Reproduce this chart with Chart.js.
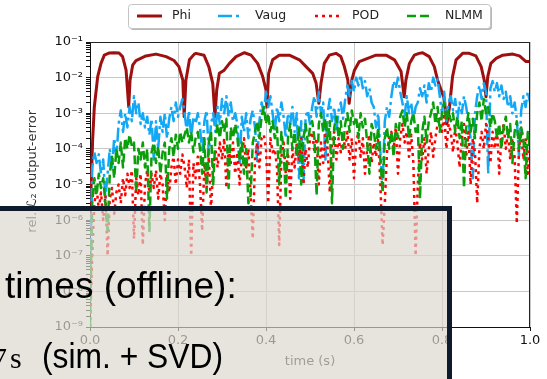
<!DOCTYPE html>
<html><head><meta charset="utf-8">
<script src="https://cdn.jsdelivr.net/npm/chart.js@4.4.1/dist/chart.umd.min.js"></script>
<style>html,body{margin:0;padding:0;background:#fff;}canvas{display:block}</style>
</head><body>
<canvas id="c" width="547" height="379"></canvas>
<script>
// ---- data ----
const times = [0,.005,.01,.015,.02,.025,.03,.035,.04,.045,
.05,.055,.06,.065,.07,.075,.08,.085,.09,.095,
.1,.105,.11,.115,.12,.125,.13,.135,.14,.145,
.15,.155,.16,.165,.17,.175,.18,.185,.19,.195,
.2,.205,.21,.215,.22,.225,.23,.235,.24,.245,
.25,.255,.26,.265,.27,.275,.28,.285,.29,.295,
.3,.305,.31,.315,.32,.325,.33,.335,.34,.345,
.35,.355,.36,.365,.37,.375,.38,.385,.39,.395,
.4,.405,.41,.415,.42,.425,.43,.435,.44,.445,
.45,.455,.46,.465,.47,.475,.48,.485,.49,.495,
.5,.505,.51,.515,.52,.525,.53,.535,.54,.545,
.55,.555,.56,.565,.57,.575,.58,.585,.59,.595,
.6,.605,.61,.615,.62,.625,.63,.635,.64,.645,
.65,.655,.66,.665,.67,.675,.68,.685,.69,.695,
.7,.705,.71,.715,.72,.725,.73,.735,.74,.745,
.75,.755,.76,.765,.77,.775,.78,.785,.79,.795,
.8,.805,.81,.815,.82,.825,.83,.835,.84,.845,
.85,.855,.86,.865,.87,.875,.88,.885,.89,.895,
.9,.905,.91,.915,.92,.925,.93,.935,.94,.945,
.95,.955,.96,.965,.97,.975,.98,.985,.99,.995,
1];

const phiT = [0,.006,.0098,.0175,.025,.0325,.043,.0545,.066,.074,.082,.088,.091,.097,.1045,.127,.15,.173,.191,.202,.211,.214,.218,.226,.237,.241,.259,.27,.279,.284,.288,.294,.305,.317,.332,.351,.366,.381,.3925,.4,.402,.406,.415,.43,.453,.476,.491,.506,.514,.52,.525,.5325,.544,.559,.57,.578,.586,.589,.595,.601,.612,.631,.65,.673,.692,.707,.714,.718,.726,.737,.748,.756,.771,.7825,.79,.798,.805,.811,.817,.824,.832,.847,.862,.877,.889,.896,.9,.904,.911,.923,.938,.961,.976,.991,1];
const phiV = [1e-6,1.8e-4,1.5e-3,.0107,.0251,.0427,.049,.05,.049,.0389,.0162,.0015,.0085,.0224,.0302,.0407,.0457,.0389,.0302,.0204,.0085,.0008,.0085,.0316,.0457,.048,.0427,.0204,.0069,.0008,.0045,.0132,.0162,.0251,.0389,.05,.0427,.0251,.0107,.0045,.0015,.0132,.0316,.0427,.0427,.0316,.0204,.0132,.0069,.0019,.0069,.0251,.0427,.048,.0389,.0204,.0085,.0019,.0085,.0162,.0282,.0347,.0427,.0427,.0316,.0148,.0029,.0085,.0251,.0427,.048,.05,.0389,.0204,.0085,.0045,.0026,.0005,.0015,.0107,.0316,.048,.048,.0407,.0204,.0085,.0029,.0107,.0251,.0347,.0427,.0457,.0407,.0282,.0282];

const vaug = [5e-9,3e-5,8e-5,4e-5,7e-5,2e-5,5e-5,4e-6,2e-5,1e-4,
3e-5,2e-4,6e-5,5e-4,1.2e-3,3e-4,1e-3,4e-4,1.5e-3,6e-4,
3e-3,1e-3,2e-3,5e-4,1e-3,4e-4,8e-4,2.5e-4,7e-4,5e-5,
6e-4,1e-4,8e-4,3e-4,1e-3,2e-4,7e-4,1.5e-3,6e-4,2e-3,
8e-4,1.5e-3,2.5e-3,1e-3,3e-4,1.2e-3,2e-4,8e-4,5e-4,1e-3,
4e-4,8e-5,6e-4,1.2e-3,7e-5,5e-4,1e-3,3e-4,1.5e-3,5e-4,
2.5e-3,1e-3,3e-3,8e-4,2e-3,6e-4,1e-3,5e-4,4e-5,8e-4,
3e-4,1e-3,2e-4,7e-4,1.2e-3,4e-4,4e-5,6e-4,2e-3,1e-3,
4e-3,1.5e-3,3e-3,1e-3,3e-4,1.5e-3,6e-4,2e-3,8e-4,2e-4,
1e-3,5e-4,1.5e-3,3e-4,1e-3,1.5e-5,6e-4,1e-5,8e-4,1.2e-3,
5e-4,1.5e-3,3e-3,8e-4,4e-3,1e-3,2e-3,5e-5,1e-3,2.5e-3,
6e-4,1.5e-3,3e-4,1.2e-3,2e-3,7e-4,2.5e-3,6e-3,3e-3,8e-3,
4e-3,1e-2,6e-3,1.2e-2,5e-3,8e-3,3e-3,5e-3,2e-3,1.5e-3,
4e-4,1e-3,8e-5,1e-5,6e-4,1.5e-3,8e-4,3e-3,8e-3,5e-3,
1e-2,4e-3,2e-3,8e-4,3e-3,1e-3,2e-3,6e-4,1.5e-3,2e-3,
5e-3,3e-3,6e-3,2e-3,7e-3,4e-3,1e-2,6e-3,9e-3,3e-3,
1e-3,4e-3,6e-4,2e-3,3e-3,1.2e-3,2.5e-3,7e-4,2e-3,1e-3,
3e-3,1.5e-3,6e-4,2e-4,1.5e-5,1e-3,3e-3,6e-3,2.5e-3,7e-3,
4e-3,2e-5,5e-3,8e-3,4e-3,7e-3,3e-3,6e-3,2.5e-3,4e-3,
1.5e-3,3e-3,1e-3,2e-3,7e-4,6e-5,1.2e-3,3e-3,1.5e-3,4e-3,
2e-3];

const pod = [1e-9,1e-7,3e-6,8e-6,2e-6,6e-6,1e-6,5e-6,1e-7,4e-6,
8e-6,1.5e-6,6e-6,1e-5,3e-6,1.5e-5,5e-6,2e-5,8e-6,2.5e-5,
3e-7,1.5e-5,5e-6,2e-5,2e-7,1e-5,2.5e-5,6e-6,2e-5,8e-6,
2.5e-5,4e-6,2e-5,1e-5,1e-6,2e-5,6e-6,3e-5,6e-5,1e-5,
5e-5,2e-5,7e-5,3e-5,8e-6,5e-5,1e-7,4e-5,1.5e-5,6e-5,
1e-5,5e-7,4e-5,8e-6,6e-5,2e-6,3e-5,1e-4,3e-5,1.5e-4,
5e-5,2e-4,8e-6,1e-4,4e-5,1.5e-4,2e-5,8e-5,1e-5,6e-5,
2e-4,3e-5,1e-4,5e-6,3e-7,5e-5,1.5e-4,3e-5,2e-4,2.5e-4,
1e-4,3e-6,2e-4,8e-5,1e-4,3e-5,2e-7,6e-5,1.5e-4,2e-5,
8e-5,4e-6,1e-4,3e-5,1.5e-4,5e-5,2e-4,1e-5,1e-4,3e-5,
2e-4,3e-4,8e-5,2e-4,1e-5,1.5e-4,4e-5,2.5e-4,1e-4,6e-6,
1.5e-4,3e-4,5e-5,2e-4,8e-5,2.5e-4,1e-4,3e-4,5e-5,2e-4,
1.5e-5,1.5e-4,3e-4,6e-5,2e-4,2e-5,1e-4,2.5e-4,4e-5,1.5e-4,
6e-5,2e-4,1e-5,2e-7,3e-6,8e-5,2e-4,3e-4,1e-4,4e-4,
2e-5,2e-4,5e-4,1.5e-4,3e-4,6e-5,2.5e-4,4e-5,1e-7,1e-5,
1.5e-4,5e-5,2e-4,2e-5,1e-4,3e-4,6e-5,2e-4,5e-4,8e-4,
3e-4,1e-3,1e-4,5e-4,3e-4,8e-5,4e-4,1.5e-4,3e-5,2e-4,
5e-4,6e-5,3e-4,1e-5,2e-4,8e-5,3e-6,1e-4,3e-4,1e-4,
5e-4,2e-4,4e-5,3e-4,1e-4,4e-4,2e-5,2e-4,5e-4,1e-4,
3e-4,5e-5,2e-4,6e-5,8e-7,1e-4,3e-4,5e-5,2e-4,2e-5,
1.5e-4];

const nlmm = [1e-9,3e-6,1.5e-5,5e-6,2e-5,8e-6,1.5e-5,3e-6,5e-7,2e-5,
6e-5,1.5e-5,1e-4,4e-5,1.5e-4,3e-5,2e-4,1e-4,2.5e-4,1.2e-4,
1.5e-4,6e-6,1e-4,5e-5,1.5e-4,3e-5,1e-4,5e-7,8e-5,1.5e-4,
4e-5,1.2e-4,2e-5,8e-5,1.5e-4,4e-6,1e-4,2e-4,6e-5,2.5e-4,
1e-4,3e-4,1.5e-4,2.5e-4,4e-4,1.5e-4,3e-4,8e-5,2e-4,3e-4,
1e-4,2e-5,2e-4,6e-6,1.5e-4,3e-4,1e-5,2e-4,5e-4,2e-4,
6e-4,3e-4,7e-4,8e-6,4e-4,2e-4,5e-4,2e-4,5e-5,1.5e-4,
2e-5,1e-4,3e-6,5e-6,1.5e-4,3e-4,6e-4,2e-4,8e-4,1.5e-3,
5e-4,1e-3,3e-4,6e-4,2e-4,4e-4,1e-5,3e-4,1e-4,4e-6,
2e-4,5e-4,1e-4,3e-4,6e-5,4e-4,1e-5,2e-4,5e-4,1.5e-4,
4e-4,6e-4,2e-4,5e-6,5e-4,1e-3,3e-4,7e-4,1.5e-4,6e-4,
3e-6,4e-4,8e-4,2e-4,6e-4,1e-4,5e-4,1e-3,3e-4,1.2e-3,
5e-4,8e-4,2e-4,1e-3,4e-4,7e-4,1.5e-4,2e-5,5e-4,3e-4,
1e-4,4e-4,5e-5,6e-6,2e-4,4e-4,1e-4,3e-4,6e-5,5e-4,
2e-4,8e-4,1.2e-3,4e-4,1e-3,2e-4,6e-4,1e-3,3e-4,5e-4,
4e-6,3e-4,8e-4,1.5e-4,6e-4,1e-3,2e-3,5e-4,1.5e-3,3e-4,
1e-3,2e-3,6e-4,1.2e-3,6e-4,1e-3,3e-4,8e-4,2e-4,6e-4,
8e-6,4e-4,1e-3,3e-4,7e-4,2e-4,1e-3,2e-3,6e-4,2.5e-3,
1e-3,1.5e-3,4e-4,1e-3,6e-4,2e-4,5e-4,1e-4,4e-4,8e-4,
2e-4,5e-4,4e-5,3e-4,6e-4,1e-4,4e-4,2e-4,1.5e-5,3e-4,
1e-4];

const seriesNames = ['Phi','Vaug','POD','NLMM'];
const xTickValues = [0,0.2,0.4,0.6,0.8,1.0];
const yDecades = [-9,-8,-7,-6,-5,-4,-3,-2,-1];
const yTitle = 'rel. ℒ₂ output-error';
const xTitle = 'time (s)';

// ---- styles ----
const COL = {Phi:'#9e0f0f', Vaug:'#12a8f5', POD:'#ff0000', NLMM:'#0a9e0a'};
const DASH = {Phi:[], Vaug:[14,4,3,4], POD:[3,4], NLMM:[9,4]};
const LWS = {Phi:3, Vaug:2.5, POD:2.5, NLMM:2.5};
const SUP = {'-':'⁻','0':'⁰','1':'¹','2':'²','3':'³','4':'⁴','5':'⁵','6':'⁶','7':'⁷','8':'⁸','9':'⁹'};
const sup = s => String(s).split('').map(ch => SUP[ch]).join('');

Chart.defaults.font.family = '"DejaVu Sans", sans-serif';

const deco = {
  id: 'deco',
  afterDraw(chart) {
    const ctx = chart.ctx, a = chart.chartArea;
    ctx.save();
    // top / right spines
    ctx.strokeStyle = '#222'; ctx.lineWidth = 1; ctx.setLineDash([]);
    ctx.beginPath();
    ctx.moveTo(a.left, a.top + 0.5); ctx.lineTo(a.right, a.top + 0.5);
    ctx.moveTo(a.right - 0.5, a.top); ctx.lineTo(a.right - 0.5, a.bottom);
    ctx.stroke();

    // y-axis title
    ctx.save();
    ctx.translate(33, 110);
    ctx.rotate(-Math.PI / 2);
    ctx.font = '13px "DejaVu Sans"'; ctx.fillStyle = '#333';
    ctx.textAlign = 'right'; ctx.textBaseline = 'middle';
    ctx.fillText(yTitle, 0, 0);
    ctx.restore();

    // legend (matplotlib-like box)
    const bx = 128, by = 4, bw = 362, bh = 24;
    ctx.fillStyle = 'rgba(0,0,0,0.28)';
    ctx.beginPath(); ctx.roundRect(bx + 2, by + 2, bw, bh, 3); ctx.fill();
    ctx.fillStyle = '#fff'; ctx.strokeStyle = '#c4c4c4'; ctx.lineWidth = 1;
    ctx.beginPath(); ctx.roundRect(bx + 0.5, by + 0.5, bw, bh, 3); ctx.fill(); ctx.stroke();
    const items = [[137, 172], [218, 255], [315, 352], [407, 445]];
    const ly = 16;
    ctx.font = '12.5px "DejaVu Sans"'; ctx.textBaseline = 'middle'; ctx.textAlign = 'left';
    seriesNames.forEach((n, i) => {
      const [x0, tx] = items[i];
      ctx.strokeStyle = COL[n]; ctx.lineWidth = LWS[n]; ctx.setLineDash(DASH[n]); ctx.lineCap = 'butt';
      ctx.beginPath(); ctx.moveTo(x0, ly); ctx.lineTo(x0 + 25, ly); ctx.stroke();
      ctx.setLineDash([]);
      ctx.fillStyle = '#222'; ctx.fillText(n, tx, ly);
    });

    // slide overlay box
    ctx.fillStyle = 'rgba(220,215,206,0.68)';
    ctx.fillRect(-5, 211, 452, 200);
    ctx.strokeStyle = '#0d1b2d'; ctx.lineWidth = 5; ctx.setLineDash([]);
    ctx.strokeRect(-20, 208.5, 469.5, 300);
    ctx.fillStyle = '#000'; ctx.textBaseline = 'alphabetic';
    ctx.textAlign = 'left';
    ctx.font = '37px "Liberation Sans"';
    ctx.fillText('times (offline):', 5, 298, 234);
    ctx.font = '35px "Liberation Sans"';
    ctx.fillText('(sim. + SVD)', 42, 368, 181);
    ctx.font = '30px "Liberation Serif"';
    ctx.fillText('s', 10, 368);
    ctx.textAlign = 'right';
    ctx.fillText('7', 7, 368);
    ctx.restore();
  }
};

const mk = (name, data) => ({
  label: name, data,
  borderColor: COL[name], backgroundColor: COL[name],
  borderWidth: LWS[name], borderDash: DASH[name],
  pointRadius: 0, tension: 0, fill: false,
  borderJoinStyle: 'round', borderCapStyle: 'butt'
});

new Chart(document.getElementById('c'), {
  type: 'line',
  data: {
    labels: times,
    datasets: [
      mk('NLMM', nlmm),
      mk('POD', pod),
      mk('Vaug', vaug),
      mk('Phi', phiT.map((t, i) => ({x: t, y: phiV[i]})))
    ]
  },
  options: {
    responsive: false, animation: false, devicePixelRatio: 1, events: [],
    layout: {padding: {left: 0, right: 17, top: 42, bottom: 0}},
    plugins: {legend: {display: false}, tooltip: {enabled: false}},
    scales: {
      x: {
        type: 'linear', min: 0, max: 1,
        afterBuildTicks: s => { s.ticks = xTickValues.map(v => ({value: v})); },
        afterFit: s => { s.height = 52; },
        ticks: {autoSkip: false, maxRotation: 0, padding: 2, color: '#111',
                font: {size: 13}, callback: v => Number(v).toFixed(1)},
        grid: {color: '#c8c8c8', lineWidth: 1, tickLength: 4, tickColor: '#111', drawTicks: true},
        border: {display: true, color: '#111', width: 1},
        title: {display: true, text: xTitle, color: '#222', font: {size: 13}, padding: {top: 0, bottom: 10}}
      },
      y: {
        type: 'logarithmic', min: 1e-9, max: 1e-1,
        afterBuildTicks: s => {
          const t = [];
          yDecades.forEach(e => {
            t.push({value: Math.pow(10, e), maj: true, e});
            if (e < -1) for (let m = 2; m <= 9; m++) t.push({value: m * Math.pow(10, e), maj: false});
          });
          s.ticks = t;
        },
        afterFit: s => { s.width = 90; },
        ticks: {autoSkip: false, padding: 3, color: '#111', font: {size: 13},
                callback: function (v, i, ticks) { const tk = ticks[i]; return tk && tk.maj ? '10' + sup(tk.e) : ''; }},
        grid: {color: c => (c.tick && c.tick.maj) ? '#c8c8c8' : 'rgba(0,0,0,0)',
               lineWidth: 1, tickLength: 4, tickColor: '#111', drawTicks: true},
        border: {display: true, color: '#111', width: 1},
        title: {display: false}
      }
    }
  },
  plugins: [deco]
});
</script>
</body></html>
